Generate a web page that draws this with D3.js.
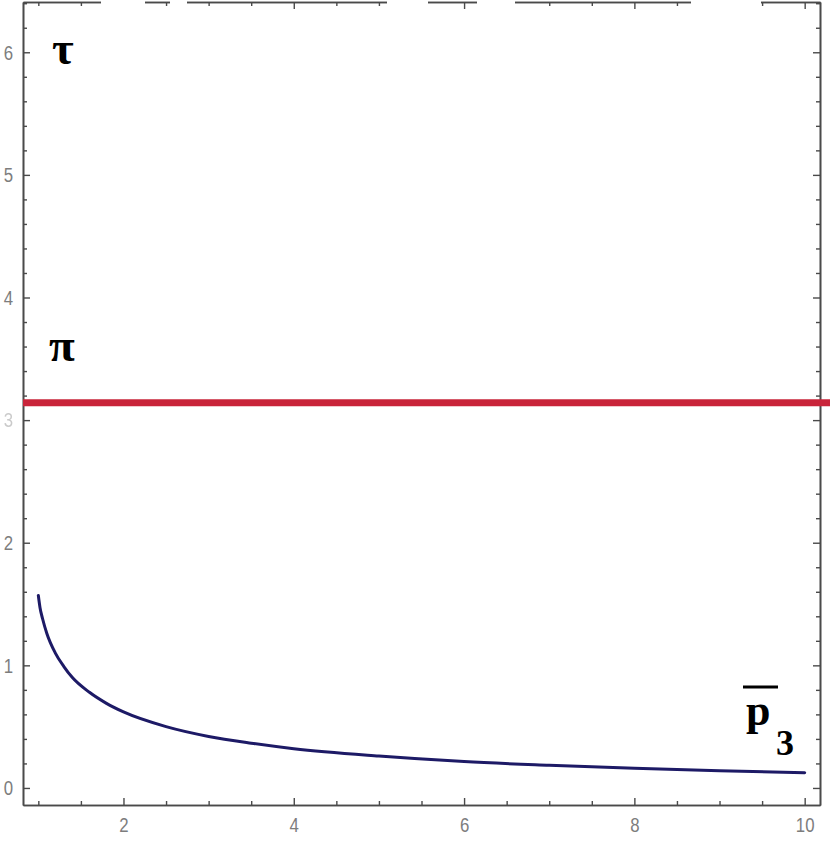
<!DOCTYPE html>
<html>
<head>
<meta charset="utf-8">
<script src="https://cdn.jsdelivr.net/npm/d3@7"></script>
<style>
  html, body { margin: 0; padding: 0; background: #fff; }
  svg { display: block; }
</style>
</head>
<body>
<svg id="chart" width="830" height="843"></svg>
<script>
// ---- data ----
const curveX = [1, 1.02, 1.05, 1.1, 1.2, 1.3, 1.4, 1.6, 1.8, 2, 2.5, 3, 3.5, 4, 5, 6, 7, 8, 9, 10];
const curveY = [1.57, 1.47, 1.38, 1.26, 1.10, 0.99, 0.90, 0.78, 0.69, 0.62, 0.50, 0.42, 0.365, 0.32, 0.26, 0.215, 0.185, 0.16, 0.14, 0.125];
const piLevel = Math.PI;
const xMajorTicks = [2, 4, 6, 8, 10];
const yMajorTicks = [0, 1, 2, 3, 4, 5, 6];
const xDomain = [0.82, 10.18];
const yDomain = [-0.139, 6.41];
const labelTau = "τ";
const labelPi = "π";
const labelP = "p";
const labelSub = "3";

(function () {
// ---- layout ----
const svg = d3.select("#chart");
const padL = 23, padR = 820, padT = 2, padB = 805;
const x = d3.scaleLinear().domain(xDomain).range([padL, padR]);
const y = d3.scaleLinear().domain(yDomain).range([padB, padT]);

const axisColor = "#4a4a4a";
const sx = 0.8; // horizontal squeeze of tick labels
const xMinor = d3.range(1, 10.01, 0.5).filter(v => !xMajorTicks.includes(v));
const yMinor = d3.range(0, 6.41, 0.2).map(v => +v.toFixed(1)).filter(v => !yMajorTicks.includes(v));

// bottom axis
const gB = svg.append("g").attr("transform", `translate(0,${padB})`);
gB.call(d3.axisBottom(x).tickValues(xMajorTicks).tickSize(-7).tickSizeOuter(0).tickPadding(12).tickFormat(d3.format("d")));
gB.append("g").call(d3.axisBottom(x).tickValues(xMinor).tickSize(-4).tickSizeOuter(0).tickFormat(""));

// left axis
const gL = svg.append("g").attr("transform", `translate(${padL},0)`);
gL.call(d3.axisLeft(y).tickValues(yMajorTicks).tickSize(-7).tickSizeOuter(0).tickPadding(10).tickFormat(d3.format("d")));
gL.append("g").call(d3.axisLeft(y).tickValues(yMinor).tickSize(-4).tickSizeOuter(0).tickFormat(""));

// right frame
const gR = svg.append("g").attr("transform", `translate(${padR},0)`);
gR.call(d3.axisRight(y).tickValues(yMajorTicks).tickSize(-7).tickSizeOuter(0).tickFormat(""));
gR.append("g").call(d3.axisRight(y).tickValues(yMinor).tickSize(-4).tickSizeOuter(0).tickFormat(""));

// top frame (broken in the reference) via mask
const defs = svg.append("defs");
const mask = defs.append("mask").attr("id", "topmask").attr("maskUnits", "userSpaceOnUse")
  .attr("x", 0).attr("y", -10).attr("width", 830).attr("height", 30);
[[20, 101], [145, 170], [187, 387], [428, 477], [515, 691], [761, 830]].forEach(s => {
  mask.append("rect").attr("x", s[0]).attr("y", -10).attr("width", s[1] - s[0]).attr("height", 30).attr("fill", "#fff");
});
const gT = svg.append("g").attr("transform", `translate(0,${padT})`);
const gTin = gT.append("g").attr("mask", "url(#topmask)");
gTin.append("g").call(d3.axisTop(x).tickValues(xMajorTicks).tickSize(-7).tickSizeOuter(0).tickFormat(""));
gTin.append("g").call(d3.axisTop(x).tickValues(xMinor).tickSize(-4).tickSizeOuter(0).tickFormat(""));

svg.selectAll(".domain").attr("stroke", axisColor).attr("stroke-width", 1.6);
svg.selectAll(".tick line").attr("stroke", axisColor).attr("stroke-width", 1.4);
svg.selectAll(".tick text")
  .attr("fill", "#7d7d7d")
  .attr("font-family", "Liberation Sans, Arial, sans-serif")
  .style("font-size", "21px");
// squeeze labels horizontally
gB.selectAll(".tick text").attr("transform", `scale(${sx},1)`);
gL.selectAll(".tick text").attr("x", -10 / sx).attr("transform", `scale(${sx},1)`);
gL.selectAll(".tick text").filter(d => d === 3).attr("opacity", 0.4);

// red line at pi
svg.append("line")
  .attr("x1", x(xDomain[0])).attr("x2", 830)
  .attr("y1", y(piLevel)).attr("y2", y(piLevel))
  .attr("stroke", "#c9243a").attr("stroke-width", 7);

// blue curve
const pts = curveX.map((v, i) => [v, curveY[i]]);
svg.append("path")
  .datum(pts)
  .attr("fill", "none")
  .attr("stroke", "#1d1a66")
  .attr("stroke-width", 3)
  .attr("stroke-linecap", "round")
  .attr("d", d3.line().x(d => x(d[0])).y(d => y(d[1])).curve(d3.curveMonotoneX));

// labels
const serif = "Liberation Serif, Times New Roman, serif";
svg.append("text").attr("x", 52).attr("y", 64).text(labelTau)
  .attr("font-family", serif).attr("font-weight", "bold").attr("font-size", 47).attr("fill", "#000");
svg.append("text").attr("x", 49).attr("y", 361).text(labelPi)
  .attr("font-family", serif).attr("font-weight", "bold").attr("font-size", 47).attr("fill", "#000");
svg.append("text").attr("x", 746).attr("y", 725).text(labelP)
  .attr("font-family", serif).attr("font-weight", "bold").attr("font-size", 44).attr("fill", "#000");
svg.append("line").attr("x1", 743).attr("x2", 778).attr("y1", 687).attr("y2", 687)
  .attr("stroke", "#000").attr("stroke-width", 3);
svg.append("text").attr("x", 776).attr("y", 755).text(labelSub)
  .attr("font-family", serif).attr("font-weight", "bold").attr("font-size", 36).attr("fill", "#000");
})();
</script>
</body>
</html>
